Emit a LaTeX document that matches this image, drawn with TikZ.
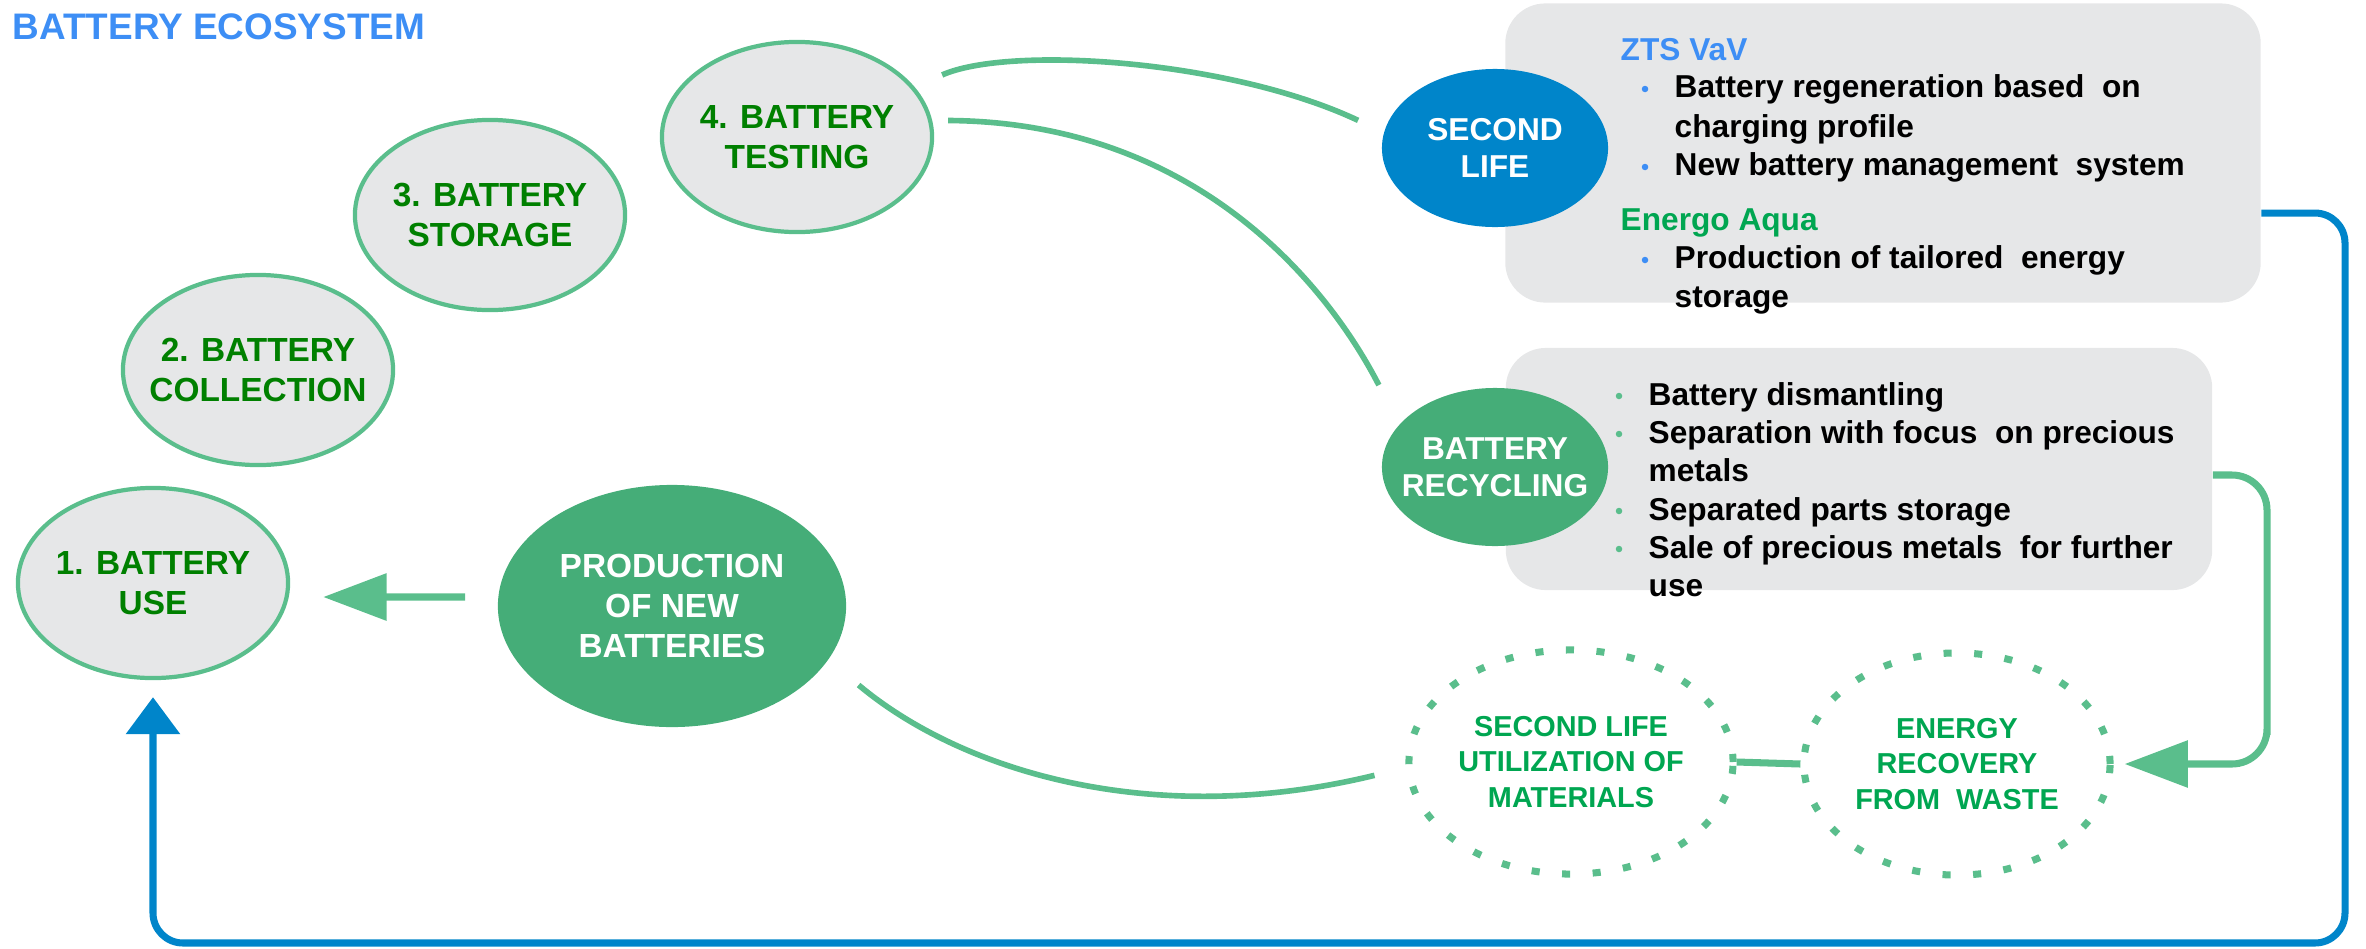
\documentclass[tikz,border=0pt]{standalone}
\usepackage{fontspec}
\setmainfont{Liberation Sans}
\usetikzlibrary{shapes.geometric,arrows.meta}
\definecolor{ecoblue}{RGB}{61,142,245}
\definecolor{hubblue}{RGB}{0,133,202}
\definecolor{hubgreen}{RGB}{69,173,120}
\definecolor{linegreen}{RGB}{90,190,140}
\definecolor{stagetext}{RGB}{0,128,0}
\definecolor{leafgreen}{RGB}{0,166,81}
\definecolor{panel}{RGB}{230,231,232}
\tikzset{
  stage/.style={ellipse, draw=linegreen, line width=1.2pt, fill=panel, text=stagetext,
    minimum width=2.7cm, minimum height=1.9cm, inner xsep=-0.2cm, inner ysep=0pt,
    align=center, font=\bfseries\fontsize{9.5}{11.4}\selectfont},
  hub/.style={ellipse, text=white, minimum width=2.26cm, minimum height=1.58cm,
    inner xsep=-0.2cm, inner ysep=0pt, align=center, font=\bfseries\fontsize{9}{10.5}\selectfont},
  loose/.style={ellipse, draw=linegreen, line width=2pt, dash pattern=on 2.3pt off 6.4pt,
    text=leafgreen, inner xsep=-0.2cm, inner ysep=0pt, align=center,
    font=\bfseries\fontsize{8.2}{10.2}\selectfont},
  panelbox/.style={rectangle, rounded corners=0.4cm, fill=panel, inner sep=0pt},
  itemline/.style={anchor=base west, inner sep=0pt, font=\bfseries\fontsize{9}{10.8}\selectfont},
  bulletdot/.style={circle, inner sep=0pt, minimum size=0.065cm},
  link/.style={draw=linegreen, line width=1.6pt},
  bluelink/.style={draw=hubblue, line width=2pt},
}
\begin{document}
\begin{tikzpicture}[x=0.01cm, y=-0.01cm]
  \useasboundingbox (0,0) rectangle (2366,948);
  \node[anchor=base west, inner sep=0pt, text=ecoblue,
    font=\bfseries\fontsize{10.5}{12}\selectfont] (title) at (12,39) {BATTERY ECOSYSTEM};

  % the cycle
  \node[stage] (use) at (153,583) {1. BATTERY\\USE};
  \node[stage] (coll) at (258,370) {2. BATTERY\\COLLECTION};
  \node[stage] (stor) at (490,215) {3. BATTERY\\STORAGE};
  \node[stage] (test) at (797,137) {4. BATTERY\\TESTING};
  \node[hub, fill=hubgreen, minimum width=3.48cm, minimum height=2.42cm,
    font=\bfseries\fontsize{9.5}{11.4}\selectfont] (prod) at (672,606) {PRODUCTION\\OF NEW\\BATTERIES};

  % panels on the right
  \node[panelbox, minimum width=7.55cm, minimum height=2.99cm] (zts) at (1883,153) {};
  \node[panelbox, minimum width=7.06cm, minimum height=2.42cm] (rbox) at (1859,469) {};
  \node[hub, fill=hubblue] (life) at (1495,148) {SECOND\\LIFE};
  \node[hub, fill=hubgreen] (recyc) at (1495,467) {BATTERY\\RECYCLING};

  \node[itemline, text=ecoblue] (zts1) at (1620,60) {ZTS VaV};
  \node[bulletdot, fill=ecoblue] (zb1) at (1645,89) {};
  \node[itemline] (zts2) at (1674,97) {Battery regeneration based~ on};
  \node[itemline] (zts3) at (1674,137) {charging profile};
  \node[bulletdot, fill=ecoblue] (zb2) at (1645,167) {};
  \node[itemline] (zts4) at (1674,175) {New battery management~ system};
  \node[itemline, text=leafgreen] (ea1) at (1620,230) {Energo Aqua};
  \node[bulletdot, fill=ecoblue] (zb3) at (1645,260) {};
  \node[itemline] (ea2) at (1674,268) {Production of tailored~ energy};
  \node[itemline] (ea3) at (1674,307) {storage};

  \node[bulletdot, fill=linegreen] (rb1) at (1619,396) {};
  \node[itemline] (rc1) at (1648,405) {Battery dismantling};
  \node[bulletdot, fill=linegreen] (rb2) at (1619,434) {};
  \node[itemline] (rc2) at (1648,443) {Separation with focus~ on precious};
  \node[itemline] (rc3) at (1648,481) {metals};
  \node[bulletdot, fill=linegreen] (rb3) at (1619,511) {};
  \node[itemline] (rc4) at (1648,520) {Separated parts storage};
  \node[bulletdot, fill=linegreen] (rb4) at (1619,549) {};
  \node[itemline] (rc5) at (1648,558) {Sale of precious metals~ for further};
  \node[itemline] (rc6) at (1648,596) {use};

  % waste side
  \node[loose, minimum width=3.24cm, minimum height=2.24cm] (util) at (1571,762) {SECOND LIFE\\UTILIZATION OF\\MATERIALS};
  \node[loose, minimum width=3.06cm, minimum height=2.22cm] (energy) at (1957,764) {ENERGY\\RECOVERY\\FROM~ WASTE};

  % connectors
  \draw[link, shorten <=0.3cm, shorten >=0.28cm] (test.23) .. controls (1010,45) and (1230,60) .. (life.172);
  \draw[link, shorten <=0.16cm, shorten >=0.44cm] (test.7) .. controls (1200,122) and (1330,290) .. (recyc.156);
  \draw[link, shorten <=0.39cm, shorten >=0.32cm] (prod.-19) .. controls (960,770) and (1150,830) .. (util.182);
  \draw[link, line width=2pt] (util.east) -- (energy.west);
  \draw[link, line width=2pt, -{Triangle[length=18pt,width=13pt]}, shorten <=0.32cm, shorten >=0.33cm]
    ([yshift=0.09cm]prod.west) -- ([yshift=-0.14cm]use.east);
  \coordinate (rturn) at (2267,700);
  \draw[link, line width=2pt, rounded corners=0.35cm, -{Triangle[length=18pt,width=13pt]}, shorten >=0.11cm]
    ([yshift=-0.06cm]rbox.east) -| (rturn) |- (energy.east);
  \coordinate (loopcorner) at (2345,943);
  \draw[bluelink, rounded corners=0.3cm, -{Triangle[length=10.5pt,width=15pt]}]
    ([yshift=-0.6cm]zts.east) -| (loopcorner) -| ([yshift=-0.17cm]use.south);
\end{tikzpicture}
\end{document}
